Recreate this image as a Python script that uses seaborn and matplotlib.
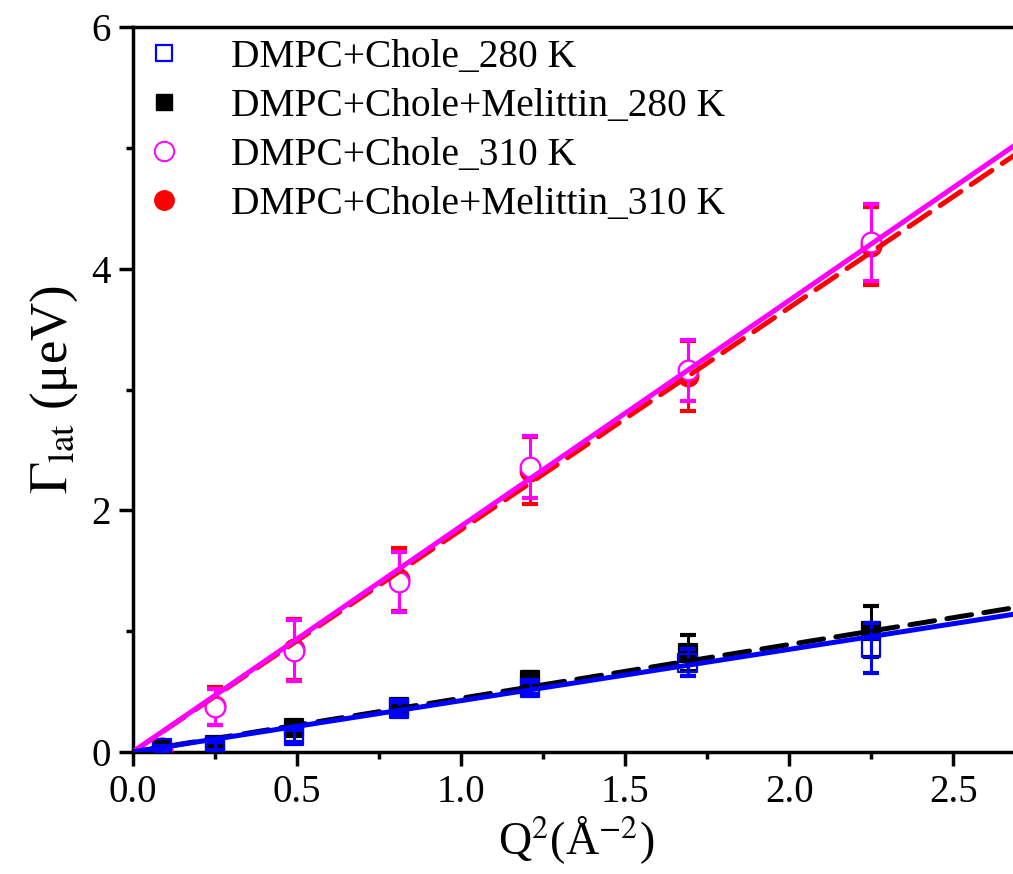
import numpy as np
import pandas as pd
import matplotlib
matplotlib.use("Agg")
import matplotlib.pyplot as plt
from matplotlib.lines import Line2D
from matplotlib.ticker import MultipleLocator
import seaborn as sns

sns.set_style("ticks")
plt.rcParams['font.family'] = ['Liberation Serif', 'DejaVu Serif']
plt.rcParams['mathtext.fontset'] = 'stix'
plt.rcParams['text.color'] = 'black'
plt.rcParams['axes.labelcolor'] = 'black'
plt.rcParams['xtick.color'] = 'black'
plt.rcParams['ytick.color'] = 'black'
plt.rcParams['axes.edgecolor'] = 'black'

# Q^2 values (A^-2)
q2 = [0.09, 0.25, 0.49, 0.81, 1.21, 1.69, 2.25]

# Gamma_lat (ueV) and errors
chole_280 = [0.03, 0.05, 0.13, 0.36, 0.53, 0.74, 0.86]
chole_280_err = [0.02, 0.03, 0.05, 0.05, 0.05, 0.11, 0.21]
mel_280 = [0.02, 0.06, 0.20, 0.37, 0.60, 0.82, 1.00]
mel_280_err = [0.02, 0.03, 0.05, 0.05, 0.06, 0.15, 0.21]
chole_310 = [0.03, 0.37, 0.84, 1.41, 2.36, 3.16, 4.22]
chole_310_err = [0.03, 0.15, 0.25, 0.25, 0.26, 0.25, 0.32]
mel_310 = [0.03, 0.38, 0.85, 1.43, 2.33, 3.11, 4.19]
mel_310_err = [0.03, 0.16, 0.25, 0.26, 0.28, 0.29, 0.32]

# slopes of the linear fits through the origin
fit_slopes = {"chole_280": 0.425, "mel_280": 0.445, "chole_310": 1.87, "mel_310": 1.84}

labels = ["DMPC+Chole_280 K", "DMPC+Chole+Melittin_280 K",
          "DMPC+Chole_310 K", "DMPC+Chole+Melittin_310 K"]

fig = plt.figure(figsize=(10.13, 8.74), dpi=100)
ax = fig.add_axes([0.131, 0.1396, 0.875, 0.829])

# (values, errors, colour, marker, face)
series = [
    (mel_310, mel_310_err, "red", "o", "red"),
    (chole_310, chole_310_err, "magenta", "o", "white"),
    (mel_280, mel_280_err, "black", "s", "black"),
    (chole_280, chole_280_err, "blue", "s", "none"),
]
for i, (y, err, col, mk, face) in enumerate(series):
    ax.errorbar(q2, y, yerr=err, fmt="none", ecolor=col, elinewidth=2.2,
                capsize=6, capthick=3, zorder=2 + 2 * i)
    df = pd.DataFrame({"q2": q2, "g": y})
    sns.scatterplot(data=df, x="q2", y="g", ax=ax, marker=mk, s=200 if mk == "o" else 170,
                    facecolor=face, edgecolor=col,
                    linewidth=1.6, zorder=3 + 2 * i, legend=False)

xfit = np.array([0.0, 2.7])
fits = [("mel_310", "red", (5, 2.5)), ("chole_310", "magenta", None),
        ("mel_280", "black", (5, 2.5)), ("chole_280", "blue", None)]
for key, col, dash in fits:
    fdf = pd.DataFrame({"x": xfit, "y": fit_slopes[key] * xfit})
    sns.lineplot(data=fdf, x="x", y="y", ax=ax, color=col, linewidth=3.6, zorder=20)
    if dash is not None:
        ax.lines[-1].set_dashes(dash)
        ax.lines[-1].set_dash_capstyle("round")

ax.set_xlim(0, 2.7)
ax.set_ylim(0, 6)
ax.xaxis.set_major_locator(MultipleLocator(0.5))
ax.xaxis.set_minor_locator(MultipleLocator(0.25))
ax.yaxis.set_major_locator(MultipleLocator(2))
ax.yaxis.set_minor_locator(MultipleLocator(1))
ax.set_xticklabels([f"{v:.1f}" for v in ax.get_xticks()])
ax.tick_params(which="major", direction="out", length=10, width=2.5, labelsize=28, pad=6)
ax.tick_params(which="minor", direction="out", length=5, width=2.5)
ax.tick_params(top=False, right=False, which="both")
for sp in ax.spines.values():
    sp.set_linewidth(2.5)
    sp.set_visible(True)

ax.set_xlabel(r"Q$^2$(Å$^{-2}$)", fontsize=33, labelpad=2)
ax.set_ylabel(r"$\Gamma_{\mathrm{lat}}$ (μeV)", fontsize=38, labelpad=8)

handles = [
    Line2D([], [], ls="none", marker="s", ms=12, mfc="none", mec="blue", mew=1.6),
    Line2D([], [], ls="none", marker="s", ms=12, mfc="black", mec="black"),
    Line2D([], [], ls="none", marker="o", ms=14, mfc="none", mec="magenta", mew=1.4),
    Line2D([], [], ls="none", marker="o", ms=14, mfc="red", mec="red"),
]
ax.legend(handles, labels, loc="upper left", frameon=False, fontsize=28.4,
          handlelength=1.0, handletextpad=1.2, labelspacing=0.3,
          borderpad=0.2, borderaxespad=0.1, bbox_to_anchor=(0.0, 1.0))

fig.savefig("out.png", dpi=100)
